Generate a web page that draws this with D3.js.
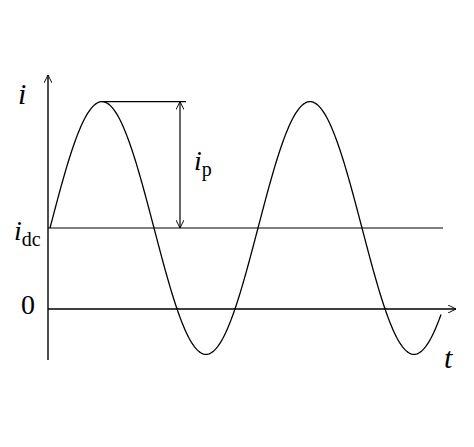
<!DOCTYPE html>
<html>
<head>
<meta charset="utf-8">
<script src="https://cdn.jsdelivr.net/npm/d3@7"></script>
<style>
  body { margin: 0; background: #fff; }
  text { font-family: "Liberation Serif", serif; fill: #000; }
</style>
</head>
<body>
<svg width="474" height="447"></svg>
<script>
// signal parameters (in units of idc)
const idc = [1];
const ip = [1.56];
const cycles = [1.88];
const axisLabels = ["i", "t", "0"];

const svg = d3.select("svg");
const x = d3.scaleLinear().domain([0, 1]).range([50, 258]); // one period
const y = d3.scaleLinear().domain([0, 1]).range([309, 228]);

const pts = d3.range(0, cycles[0] + 0.0001, 0.005).map((t) => [t, idc[0] + ip[0] * Math.sin(2 * Math.PI * t)]);

svg.append("defs").append("marker")
  .attr("id", "arr").attr("viewBox", "0 0 10 10").attr("refX", 10).attr("refY", 5)
  .attr("markerWidth", 8).attr("markerHeight", 8).attr("orient", "auto-start-reverse")
  .attr("markerUnits", "userSpaceOnUse")
  .append("path").attr("d", "M0,0 L10,5 L0,10").attr("fill", "none").attr("stroke", "#000").attr("stroke-width", 1.2);

const line = (x1, y1, x2, y2, w) => svg.append("line")
  .attr("x1", x1).attr("y1", y1).attr("x2", x2).attr("y2", y2)
  .attr("stroke", "#000").attr("stroke-width", w || 1.3);

// axes
line(x(0) - 2, 360, x(0) - 2, 75, 1.4).attr("marker-end", "url(#arr)");
line(x(0) - 2, y(0), 456, y(0), 1.4).attr("marker-end", "url(#arr)");
line(x(0) - 2, y(idc[0]), 443, y(idc[0]), 1.2);

// waveform
svg.append("path").datum(pts)
  .attr("d", d3.line().x((d) => x(d[0])).y((d) => y(d[1])))
  .attr("fill", "none").attr("stroke", "#000").attr("stroke-width", 1.3);

// peak amplitude marker
const yPeak = y(idc[0] + ip[0]);
line(x(0.25), yPeak, 186, yPeak, 1.2);
line(180, yPeak, 180, y(idc[0]), 1.2).attr("marker-start", "url(#arr)").attr("marker-end", "url(#arr)");

// labels
svg.append("text").attr("x", 18).attr("y", 104).attr("font-size", 30).attr("font-style", "italic").text(axisLabels[0]);
svg.append("text").attr("x", 444).attr("y", 368).attr("font-size", 30).attr("font-style", "italic").text(axisLabels[1]);
svg.append("text").attr("x", 21).attr("y", 314).attr("font-size", 28).text(axisLabels[2]);

const ipT = svg.append("text").attr("x", 194).attr("y", 170).attr("font-size", 28);
ipT.append("tspan").attr("font-style", "italic").text("i");
ipT.append("tspan").attr("font-size", 20).attr("dy", 6).text("p");

const idcT = svg.append("text").attr("x", 14).attr("y", 240).attr("font-size", 28);
idcT.append("tspan").attr("font-style", "italic").text("i");
idcT.append("tspan").attr("font-size", 20).attr("dy", 6).text("dc");
</script>
</body>
</html>
